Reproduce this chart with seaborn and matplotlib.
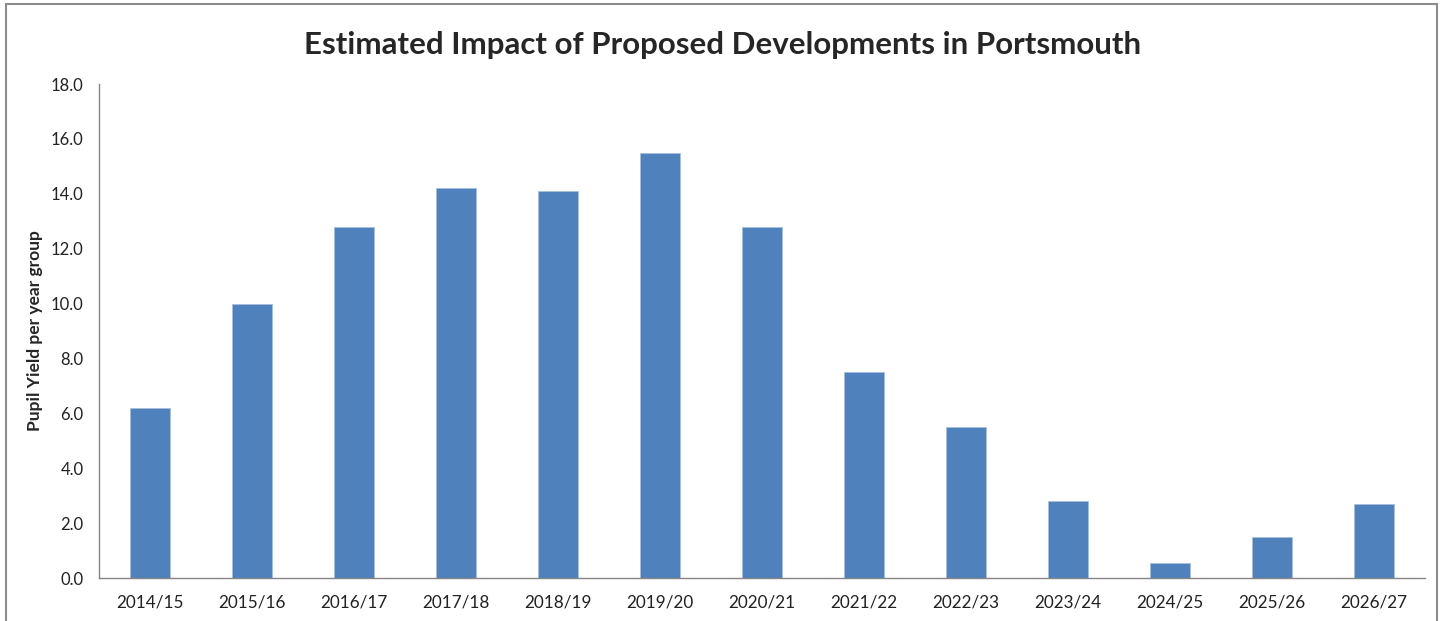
import matplotlib
matplotlib.use("Agg")
import matplotlib.pyplot as plt
import seaborn as sns
import pandas as pd
import numpy as np
from matplotlib.patches import Rectangle
from matplotlib.ticker import FormatStrFormatter

# values
years = ["2014/15", "2015/16", "2016/17", "2017/18", "2018/19", "2019/20", "2020/21",
         "2021/22", "2022/23", "2023/24", "2024/25", "2025/26", "2026/27"]
pupil_yield = [6.2, 10.0, 12.8, 14.2, 14.1, 15.5, 12.8, 7.5, 5.5, 2.8, 0.55, 1.5, 2.7]

df = pd.DataFrame({"year": years, "yield": pupil_yield})

sns.set_style("white")
plt.rcParams["font.family"] = ["Lato", "DejaVu Sans"]

axis_grey = "#868686"
bar_blue = "#4F81BD"

fig = plt.figure(figsize=(14.45, 6.21), dpi=100)
ax = fig.add_axes([0.0685, 0.0692, 0.9177, 0.7955])

sns.barplot(data=df, x="year", y="yield", color=bar_blue, width=0.4,
            edgecolor="#A7BFDE", linewidth=0.6, saturation=1, ax=ax)

ax.set_ylim(0, 18)
ax.set_xlim(-0.5, len(years) - 0.5)
ax.set_yticks(np.arange(0, 18.1, 2))
ax.yaxis.set_major_formatter(FormatStrFormatter("%.1f"))

# category ticks sit between the bars
ax.set_xticks(np.arange(len(years)))
ax.set_xticks(np.arange(-0.5, len(years), 1), minor=True)
ax.tick_params(axis="x", which="major", length=0, pad=12, labelsize=12.3, labelcolor="#222222")
ax.tick_params(axis="x", which="minor", length=6, width=1, color=axis_grey, direction="out")
ax.tick_params(axis="y", length=5, width=1, color=axis_grey, direction="out",
               labelsize=12, labelcolor="#222222", pad=6)

for side in ["top", "right"]:
    ax.spines[side].set_visible(False)
for side in ["left", "bottom"]:
    ax.spines[side].set_color(axis_grey)
    ax.spines[side].set_linewidth(1)

ax.set_xlabel("")
ax.set_ylabel("Pupil Yield per year group", fontsize=12.5, fontweight="bold", labelpad=6)

fig.suptitle("Estimated Impact of Proposed Developments in Portsmouth",
             fontsize=22.5, fontweight="bold", x=0.5, y=0.95)

# outer chart border
fig.patches.append(Rectangle((0.0042, -0.02), 0.9903, 1.013, transform=fig.transFigure,
                             fill=False, edgecolor="#8c8c8c", linewidth=1.5))

fig.savefig("out.png", dpi=100)
